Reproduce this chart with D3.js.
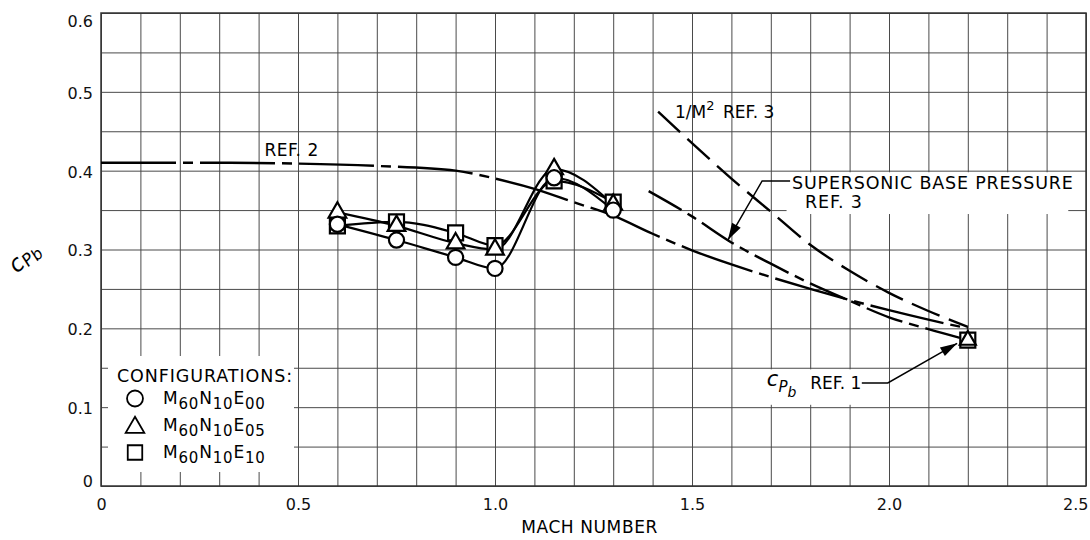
<!DOCTYPE html>
<html>
<head>
<meta charset="utf-8">
<script src="https://cdn.jsdelivr.net/npm/d3@7"></script>
<style>
  body { margin: 0; background: #fff; }
  svg { display: block; font-family: "DejaVu Sans", sans-serif; }
</style>
</head>
<body>
<svg id="chart"></svg>
<script>
// values
var mach = [0.6, 0.75, 0.9, 1.0, 1.15, 1.3];
var cpbE00 = [0.332, 0.312, 0.290, 0.276, 0.391, 0.350];
var cpbE05 = [0.347, 0.330, 0.308, 0.300, 0.402, 0.357];
var cpbE10 = [0.330, 0.335, 0.321, 0.305, 0.387, 0.360];

// ref. 1 point at M = 2.2
var ref1Mach = [2.2];
var ref1Cpb = [0.185];

// ref. 2 curve
var ref2Mach = [0, 0.3, 0.5, 0.7, 0.9, 1.0, 1.1, 1.2, 1.3, 1.4, 1.5, 1.6, 1.7, 1.8, 1.9, 2.0, 2.1, 2.2];
var ref2Cpb = [0.41, 0.41, 0.409, 0.406, 0.400, 0.390, 0.377, 0.360, 0.343, 0.320, 0.299, 0.281, 0.265, 0.250, 0.236, 0.223, 0.211, 0.200];

// supersonic base pressure, ref. 3
var sbpMach = [1.39, 1.5, 1.6, 1.7, 1.8, 1.9, 2.0, 2.1, 2.18];
var sbpCpb = [0.374, 0.342, 0.309, 0.282, 0.257, 0.235, 0.214, 0.199, 0.188];

// 1/M^2, ref. 3
var invM2Mach = [1.414, 1.5, 1.6, 1.7, 1.8, 1.9, 2.0, 2.1, 2.2];
var invM2Cpb = [0.475, 0.435, 0.390, 0.348, 0.306, 0.273, 0.245, 0.222, 0.202];

var xTicks = [0, 0.5, 1.0, 1.5, 2.0, 2.5];
var xTickLabels = ["0", "0.5", "1.0", "1.5", "2.0", "2.5"];
var yTicks = [0, 0.1, 0.2, 0.3, 0.4, 0.5, 0.6];
var yTickLabels = ["0", "0.1", "0.2", "0.3", "0.4", "0.5", "0.6"];

// canvas
var margin = {top: 13, right: 4, bottom: 54, left: 101},
    width = 1090 - margin.left - margin.right,
    height = 540 - margin.top - margin.bottom;

var x = d3.scaleLinear().domain([0, 2.5]).range([0, width]);
var y = d3.scaleLinear().domain([0, 0.6]).range([height, 0]);

var svg = d3.select("#chart")
    .attr("width", 1090)
    .attr("height", 540);

var chart = svg.append("g")
    .attr("transform", "translate(" + margin.left + "," + margin.top + ")");

// grid: every 0.1 in Mach, every 0.05 in Cpb
chart.append("g")
    .attr("transform", "translate(0," + height + ")")
    .call(d3.axisBottom(x).tickValues(d3.range(0, 26).map(function(i) { return i / 10; }))
      .tickSize(-height).tickFormat(""))
    .call(function(g) { g.select(".domain").remove(); })
    .selectAll("line").attr("stroke", "#4a4a4a").attr("stroke-width", 1);

chart.append("g")
    .call(d3.axisLeft(y).tickValues(d3.range(0, 13).map(function(i) { return i * 0.05; }))
      .tickSize(-width).tickFormat(""))
    .call(function(g) { g.select(".domain").remove(); })
    .selectAll("line").attr("stroke", "#4a4a4a").attr("stroke-width", 1);

chart.append("rect")
    .attr("width", width).attr("height", height)
    .attr("fill", "none").attr("stroke", "#333").attr("stroke-width", 1.5);

// tick labels
chart.append("g")
    .attr("transform", "translate(0," + height + ")")
    .call(d3.axisBottom(x).tickValues(xTicks).tickSize(0).tickPadding(13)
      .tickFormat(function(d, i) { return xTickLabels[i]; }))
    .call(function(g) { g.select(".domain").remove(); })
    .selectAll("text")
      .attr("font-family", "DejaVu Sans").attr("font-size", 16).attr("fill", "#111")
      .attr("text-anchor", function(d) { return d === 2.5 ? "end" : "middle"; })
      .attr("dx", function(d) { return d === 2.5 ? 2 : 0; });

chart.append("g")
    .call(d3.axisLeft(y).tickValues(yTicks).tickSize(0).tickPadding(8)
      .tickFormat(function(d, i) { return yTickLabels[i]; }))
    .call(function(g) { g.select(".domain").remove(); })
    .selectAll("text")
      .attr("font-family", "DejaVu Sans").attr("font-size", 16).attr("fill", "#111")
      .attr("dy", function(d) { return d === 0.6 ? "0.85em" : (d === 0 ? "0.05em" : "0.4em"); });

// axis titles
svg.append("text")
    .attr("x", margin.left + x(1.24)).attr("y", 533)
    .attr("text-anchor", "middle")
    .attr("font-size", 17)
    .attr("letter-spacing", 0.6)
    .text("MACH NUMBER");

var yTitle = svg.append("text")
    .attr("transform", "translate(17,274) rotate(-44)")
    .attr("font-style", "italic");
yTitle.append("tspan").attr("font-size", 23).text("c");
yTitle.append("tspan").attr("font-size", 17).attr("dy", 3).text("P");
yTitle.append("tspan").attr("font-size", 16).attr("dy", 2).text("b");

// legend box (blanks the grid behind it)
var legend = chart.append("g");
legend.append("rect")
    .attr("x", 7).attr("y", 343).attr("width", 186).attr("height", 116)
    .attr("fill", "#fff");
legend.append("text")
    .attr("x", 16).attr("y", 369)
    .attr("font-size", 17.5)
    .attr("letter-spacing", 0.9)
    .text("CONFIGURATIONS:");

var legendRows = [
  {sym: d3.symbolCircle, size: 200, sub: "00"},
  {sym: d3.symbolTriangle, size: 150, sub: "05"},
  {sym: d3.symbolSquare, size: 210, sub: "10"}
];
legendRows.forEach(function(r, i) {
  var cy = 385.5 + i * 27;
  legend.append("path")
      .attr("d", d3.symbol().type(r.sym).size(r.size)())
      .attr("transform", "translate(34," + (cy + (r.sym === d3.symbolTriangle ? 2 : 0)) + ")")
      .attr("fill", "#fff").attr("stroke", "#000").attr("stroke-width", 1.8);
  var t = legend.append("text").attr("x", 62).attr("y", cy + 5)
      .attr("font-size", 17).attr("letter-spacing", 0.8);
  t.append("tspan").text("M");
  t.append("tspan").attr("font-size", 15).attr("dy", 5).text("60");
  t.append("tspan").attr("dy", -5).text("N");
  t.append("tspan").attr("font-size", 15).attr("dy", 5).text("10");
  t.append("tspan").attr("dy", -5).text("E");
  t.append("tspan").attr("font-size", 15).attr("dy", 5).text(r.sub);
});

// reference curves
function pts(xs, ys) { return xs.map(function(m, i) { return [m, ys[i]]; }); }
var line = d3.line()
    .x(function(d) { return x(d[0]); })
    .y(function(d) { return y(d[1]); })
    .curve(d3.curveMonotoneX);

chart.append("path")
    .datum(pts(ref2Mach, ref2Cpb))
    .attr("d", line)
    .attr("fill", "none").attr("stroke", "#000").attr("stroke-width", 2.4)
    .attr("stroke-dasharray", "75,7,10,7");

chart.append("path")
    .datum(pts(sbpMach, sbpCpb))
    .attr("d", line)
    .attr("fill", "none").attr("stroke", "#000").attr("stroke-width", 2.4)
    .attr("stroke-dasharray", "38,7,10,7");

chart.append("path")
    .datum(pts(invM2Mach, invM2Cpb))
    .attr("d", line)
    .attr("fill", "none").attr("stroke", "#000").attr("stroke-width", 2.4)
    .attr("stroke-dasharray", "30,10");

// configuration curves
var series = [
  {vals: cpbE10, sym: d3.symbolSquare, size: 225},
  {vals: cpbE05, sym: d3.symbolTriangle, size: 135},
  {vals: cpbE00, sym: d3.symbolCircle, size: 180}
];
series.forEach(function(s) {
  chart.append("path")
      .datum(pts(mach, s.vals))
      .attr("d", line)
      .attr("fill", "none").attr("stroke", "#000").attr("stroke-width", 2.2);
});
series.forEach(function(s) {
  chart.selectAll(null)
      .data(pts(mach, s.vals))
    .enter().append("path")
      .attr("d", d3.symbol().type(s.sym).size(s.size)())
      .attr("transform", function(d) { return "translate(" + x(d[0]) + "," + y(d[1]) + ")"; })
      .attr("fill", "#fff").attr("stroke", "#000").attr("stroke-width", 2.2);
});

// ref. 1 point: square with triangle inside
[{sym: d3.symbolSquare, size: 225}, {sym: d3.symbolTriangle, size: 110}].forEach(function(s) {
  chart.selectAll(null)
      .data(pts(ref1Mach, ref1Cpb))
    .enter().append("path")
      .attr("d", d3.symbol().type(s.sym).size(s.size)())
      .attr("transform", function(d) { return "translate(" + x(d[0]) + "," + y(d[1]) + ")"; })
      .attr("fill", "#fff").attr("stroke", "#000").attr("stroke-width", 2.2);
});

// annotations
function label(mx, cy, txt, size) {
  return chart.append("text")
      .attr("x", x(mx)).attr("y", y(cy))
      .attr("font-size", size || 17)
      .text(txt);
}

function arrow(p) {
  var a = p[p.length - 2], b = p[p.length - 1];
  var ax = x(a[0]), ay = y(a[1]), bx = x(b[0]), by = y(b[1]);
  var ang = Math.atan2(by - ay, bx - ax), len = 17, w = 5;
  var bx0 = bx - len * Math.cos(ang), by0 = by - len * Math.sin(ang);
  chart.append("path")
      .attr("d", d3.line().x(function(d) { return x(d[0]); }).y(function(d) { return y(d[1]); })(p))
      .attr("fill", "none").attr("stroke", "#000").attr("stroke-width", 1.5);
  chart.append("path")
      .attr("d", "M" + bx + "," + by +
        "L" + (bx0 + w * Math.sin(ang)) + "," + (by0 - w * Math.cos(ang)) +
        "L" + (bx0 - w * Math.sin(ang)) + "," + (by0 + w * Math.cos(ang)) + "Z")
      .attr("fill", "#000");
}

label(0.415, 0.419, "REF. 2").attr("letter-spacing", 0.5);

var m2 = label(1.457, 0.467, "1/M", 17);
m2.append("tspan").attr("font-size", 13).attr("dy", -8).text("2");
m2.append("tspan").attr("dy", 8).text("\u2002REF. 3");

chart.append("rect")
    .attr("x", x(1.74)).attr("y", y(0.398))
    .attr("width", x(2.455) - x(1.74)).attr("height", y(0.345) - y(0.398))
    .attr("fill", "#fff");
label(1.754, 0.377, "SUPERSONIC BASE PRESSURE", 17.5).attr("letter-spacing", 0.8);
label(1.787, 0.353, "REF. 3", 17.5).attr("letter-spacing", 0.8);
arrow([[1.749, 0.387], [1.678, 0.387], [1.591, 0.312]]);

chart.append("rect")
    .attr("x", x(1.68)).attr("y", y(0.148))
    .attr("width", x(1.93) - x(1.68)).attr("height", y(0.103) - y(0.148))
    .attr("fill", "#fff");
var cpLabel = chart.append("text")
    .attr("x", x(1.69)).attr("y", y(0.127))
    .attr("font-style", "italic");
cpLabel.append("tspan").attr("font-size", 21).text("c");
cpLabel.append("tspan").attr("font-size", 15).attr("dy", 6).text("P");
cpLabel.append("tspan").attr("font-size", 14).attr("dy", 5).text("b");
label(1.8, 0.123, "REF. 1", 17);
arrow([[1.931, 0.1307], [1.997, 0.1307], [2.173, 0.181]]);
</script>
</body>
</html>
